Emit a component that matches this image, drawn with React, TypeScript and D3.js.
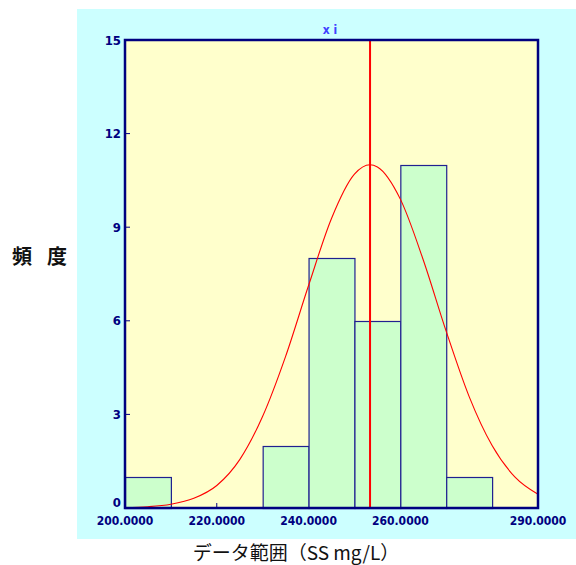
import React, { useEffect, useRef } from 'react';
import * as d3 from 'd3';

// histogram bins (SS mg/L) and counts
const binStarts = [200, 210, 220, 230, 240, 250, 260, 270, 280];
const binCounts = [1, 0, 0, 2, 8, 6, 11, 1, 0];
const binWidth = 10;

// mean line
const meanValue = 253.4;

// fitted normal curve
const curveX = [200, 205, 210, 215, 220, 225, 230, 235, 240, 245, 250, 253.4, 255, 260, 265, 270, 275, 280, 285, 290];
const curveY = [0.01, 0.04, 0.12, 0.31, 0.72, 1.55, 2.94, 4.86, 7.13, 9.28, 10.7, 11.0, 10.93, 9.9, 7.95, 5.66, 3.57, 2.0, 0.99, 0.44];

const xTickValues = [200, 220, 240, 260, 290];
const yTickValues = [0, 3, 6, 9, 12, 15];
const yTitleChars = ['頻', '度'];

const App = () => {
  const ref = useRef<SVGSVGElement>(null);

  useEffect(() => {
    const svg = d3.select(ref.current);
    svg.selectAll('*').remove();

    const left = 125, right = 538, top = 40, bottom = 508;
    const navy = '#000080';
    const tickFont = '"DejaVu Sans Condensed", sans-serif';

    // outer panel
    svg.append('rect')
      .attr('x', 77).attr('y', 9)
      .attr('width', 499).attr('height', 530)
      .attr('fill', '#ccffff');

    const x = d3.scaleLinear().domain([200, 290]).range([left, right]);
    const y = d3.scaleLinear().domain([0, 15]).range([bottom, top]);

    // plot background
    svg.append('rect')
      .attr('x', left).attr('y', top)
      .attr('width', right - left).attr('height', bottom - top)
      .attr('fill', '#ffffcc');

    // small ticks inside
    svg.append('g').selectAll('line')
      .data(yTickValues.slice(1, -1))
      .join('line')
      .attr('x1', left).attr('x2', left + 5)
      .attr('y1', d => y(d)).attr('y2', d => y(d))
      .attr('stroke', navy).attr('stroke-width', 1);

    svg.append('g').selectAll('line')
      .data(xTickValues.slice(1, -1))
      .join('line')
      .attr('x1', d => x(d)).attr('x2', d => x(d))
      .attr('y1', bottom).attr('y2', bottom - 5)
      .attr('stroke', navy).attr('stroke-width', 1);

    // bars
    const bars = binStarts.map((s, i) => ({ s, c: binCounts[i] })).filter(d => d.c > 0);
    svg.append('g').selectAll('rect')
      .data(bars)
      .join('rect')
      .attr('x', d => x(d.s) + 0.5)
      .attr('y', d => Math.round(y(d.c)) + 0.5)
      .attr('width', d => x(d.s + binWidth) - x(d.s))
      .attr('height', d => bottom - Math.round(y(d.c)))
      .attr('fill', '#ccffcc')
      .attr('stroke', '#202090')
      .attr('stroke-width', 1.2);

    // normal curve
    const line = d3.line<number>()
      .x((d, i) => x(curveX[i]))
      .y(d => y(d))
      .curve(d3.curveMonotoneX);
    svg.append('path')
      .datum(curveY)
      .attr('fill', 'none')
      .attr('stroke', '#ff0000')
      .attr('stroke-width', 1.1)
      .attr('d', line);

    // mean line
    svg.append('line')
      .attr('x1', x(meanValue)).attr('x2', x(meanValue))
      .attr('y1', top).attr('y2', bottom)
      .attr('stroke', '#ff0000').attr('stroke-width', 2);

    // frame
    svg.append('rect')
      .attr('x', left).attr('y', top)
      .attr('width', right - left).attr('height', bottom - top)
      .attr('fill', 'none')
      .attr('stroke', navy).attr('stroke-width', 2.5);

    // tick labels
    svg.append('g').selectAll('text')
      .data(yTickValues)
      .join('text')
      .attr('x', left - 4)
      .attr('y', d => y(d) + (d === 0 ? -1 : 4.5))
      .attr('text-anchor', 'end')
      .attr('font-family', tickFont)
      .attr('font-weight', 'bold')
      .attr('font-size', 13)
      .attr('fill', navy)
      .text(d => d);

    svg.append('g').selectAll('text')
      .data(xTickValues)
      .join('text')
      .attr('x', d => x(d))
      .attr('y', bottom + 17)
      .attr('text-anchor', 'middle')
      .attr('font-family', tickFont)
      .attr('font-weight', 'bold')
      .attr('font-size', 12)
      .attr('fill', navy)
      .text(d => d3.format('.4f')(d));

    svg.append('text')
      .attr('x', 330).attr('y', 34)
      .attr('text-anchor', 'middle')
      .attr('font-family', tickFont)
      .attr('font-weight', 'bold')
      .attr('font-size', 12)
      .attr('fill', '#4040ff')
      .text('x i');

    // axis titles
    svg.append('text')
      .attr('x', 296).attr('y', 560)
      .attr('text-anchor', 'middle')
      .attr('font-family', '"Noto Sans CJK JP", sans-serif')
      .attr('font-size', 19)
      .attr('fill', '#111')
      .text('データ範囲（SS mg/L）');

    svg.append('g').selectAll('text')
      .data(yTitleChars)
      .join('text')
      .attr('x', (d, i) => 22 + i * 35)
      .attr('y', 264)
      .attr('text-anchor', 'middle')
      .attr('font-family', '"Noto Sans CJK JP", sans-serif')
      .attr('font-size', 20)
      .attr('font-weight', 'bold')
      .attr('fill', '#111')
      .text(d => d);
  }, []);

  return (
    <div style={{ position: 'absolute', left: 0, top: 0 }}>
      <svg ref={ref} width={576} height={565} style={{ display: 'block', background: '#fff' }} />
    </div>
  );
};

export default App;
